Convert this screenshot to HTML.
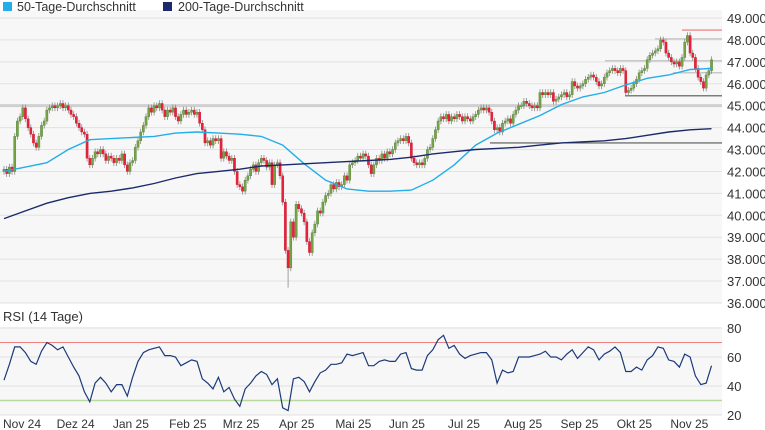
<!DOCTYPE html>
<html><head><meta charset="utf-8"><style>
body{margin:0;background:#fff;width:765px;height:430px;overflow:hidden;font-family:"Liberation Sans",sans-serif}
svg{display:block}
text{font-family:"Liberation Sans",sans-serif;fill:#333}
</style></head><body>
<svg id="c" width="765" height="430"></svg>
<script>
const closes=[42.1,41.9,42.2,42.0,43.6,44.3,44.5,44.9,44.4,44.0,43.7,43.3,43.1,43.6,44.1,44.3,44.8,44.9,45.0,44.9,45.0,45.1,44.9,45.0,44.8,44.6,44.5,44.2,44.0,43.8,43.7,42.6,42.3,42.6,42.9,42.8,43.0,42.8,42.5,42.7,42.6,42.4,42.6,42.5,42.8,42.3,42.0,42.4,42.5,43.1,43.4,43.8,44.1,44.5,44.9,44.7,45.0,44.9,45.1,44.8,44.5,44.8,44.7,44.9,44.5,44.3,44.6,44.8,44.6,44.7,44.8,44.6,44.7,44.2,43.9,43.3,43.4,43.2,43.5,43.4,43.5,42.6,42.9,42.7,42.5,42.6,42.0,41.4,41.3,41.1,41.6,41.8,42.1,42.3,42.0,42.4,42.6,42.5,42.2,42.4,41.4,42.3,42.4,41.8,40.6,38.4,37.6,39.7,39.0,40.5,40.3,40.1,39.7,38.8,38.3,39.2,39.6,40.2,40.1,40.6,40.9,41.0,41.4,41.2,41.5,41.3,41.4,41.8,41.6,42.3,42.4,42.5,42.7,42.6,42.8,42.7,42.3,41.9,42.3,42.6,42.5,42.8,42.6,42.9,42.8,43.0,43.3,43.4,43.5,43.4,43.6,43.3,42.6,42.4,42.3,42.4,42.3,42.6,43.0,43.1,43.5,43.9,44.3,44.5,44.4,44.6,44.3,44.5,44.4,44.6,44.5,44.3,44.5,44.4,44.3,44.5,44.6,44.8,44.9,44.8,44.9,44.7,44.3,43.9,44.0,43.8,44.2,44.3,44.4,44.2,44.6,44.8,45.0,45.0,45.2,45.1,45.0,44.9,45.0,44.9,45.6,45.5,45.6,45.5,45.6,45.2,45.3,45.4,45.5,45.6,45.4,45.5,46.1,45.9,45.8,45.9,46.0,46.2,46.3,46.4,46.3,46.1,45.9,46.0,46.3,46.5,46.6,46.7,46.6,46.5,46.7,46.6,45.6,45.7,45.8,46.0,46.2,46.5,46.6,46.7,47.1,47.3,47.4,47.5,47.6,48.0,47.9,47.4,47.2,47.0,46.9,47.0,46.8,47.2,47.9,48.2,47.4,47.2,46.7,46.3,46.1,45.8,46.4,46.6,47.1];
const lowExtremes=[[106,36.7]];
const ma50=[42.0,42.2,42.4,43.0,43.45,43.5,43.55,43.6,43.75,43.8,43.75,43.7,43.6,43.2,42.35,41.6,41.2,41.1,41.1,41.15,41.6,42.3,43.2,43.75,44.15,44.55,45.05,45.4,45.6,45.95,46.25,46.4,46.65,46.7];
const ma200=[39.85,40.2,40.55,40.8,41.0,41.1,41.25,41.45,41.7,41.9,42.0,42.1,42.25,42.3,42.35,42.4,42.45,42.5,42.55,42.65,42.8,42.9,43.0,43.05,43.1,43.2,43.3,43.35,43.4,43.5,43.65,43.8,43.9,43.95];
const rsi=[44,55,67,67,63,57,55,64,70,68,65,67,60,53,47,36,29,42,46,42,36,41,41,33,46,57,63,65,66,67,61,61,60,54,56,58,57,45,42,38,46,36,39,31,26,38,42,47,50,48,41,45,25,23,45,46,43,36,43,49,51,55,55,56,62,61,62,63,54,54,57,58,57,57,62,63,52,51,51,61,65,72,75,66,68,62,59,61,62,63,63,58,42,51,49,50,60,60,60,61,62,64,60,60,58,62,65,59,63,67,65,58,62,64,67,63,50,50,53,51,58,61,67,66,58,57,53,62,60,47,41,42,54];
const priceTicks=["49.000","48.000","47.000","46.000","45.000","44.000","43.000","42.000","41.000","40.000","39.000","38.000","37.000","36.000"];
const rsiTicks=["80","60","40","20"];
const months=["Nov 24","Dez 24","Jan 25","Feb 25","Mrz 25","Apr 25","Mai 25","Jun 25","Jul 25","Aug 25","Sep 25","Okt 25","Nov 25"];
const monthStartIdx=[0,20,41,62,82,103,124,144,166,187,208,229,249];

const S=document.getElementById('c');const NS='http://www.w3.org/2000/svg';
function el(t,a,p){const e=document.createElementNS(NS,t);for(const k in a)e.setAttribute(k,a[k]);(p||S).appendChild(e);return e;}
const X=i=>4+i*2.68;
const Y=p=>18+(49-p)*21.92;
const RY=v=>328+(80-v)*1.45;
const R=722;
let b=el('rect',{x:0,y:10,width:R,height:293,fill:'#f7f7f7'});

b=el('rect',{x:0,y:327,width:R,height:88,fill:'#f7f7f7'});

priceTicks.forEach((t,k)=>{const v=49-k;const y=Y(v);
 let g=el('line',{x1:0,x2:R,y1:y,y2:y,stroke:'#e2e2e2','stroke-width':1});
 
 let tx=el('text',{x:727,y:y+5,'font-size':13});tx.textContent=t;
 });
rsiTicks.forEach(t=>{const y=RY(+t);
 let g=el('line',{x1:0,x2:R,y1:y,y2:y,stroke:'#e2e2e2','stroke-width':1});
 
 let tx=el('text',{x:727,y:y+5,'font-size':13});tx.textContent=t;
 });
function hl(p,x1,col,w,name){let l=el('line',{x1:x1,x2:R,y1:Y(p),y2:Y(p),stroke:col,'stroke-width':w});
 }
hl(45.0,0,'#d0d0d0',3,'resistance-line-45000');
hl(48.45,682,'#f07070',1.2,'resistance-line-high');
hl(48.05,655,'#c8c8c8',1.5,'level-line-48000');
hl(47.05,605,'#c8c8c8',1.5,'level-line-47000');
hl(46.5,673,'#c8c8c8',1.5,'level-line-46500');
hl(45.45,625,'#555',1.2,'support-line-45450');
hl(43.3,490,'#555',1.2,'support-line-43300');
const lowMap={};lowExtremes.forEach(a=>{lowMap[a[0]]=a[1];});
closes.forEach((c,i)=>{const o=i?closes[i-1]:42.0;const hi=Math.max(o,c)+0.15;let lo=Math.min(o,c)-0.15;
 if(lowMap[i]!==undefined)lo=lowMap[i];
 const x=X(i);const up=c>=o;
 let w=el('line',{x1:x,x2:x,y1:Y(hi),y2:Y(lo),stroke:'#888','stroke-width':0.8});
 
 const y1=Y(Math.max(o,c)),h=Math.max(1,Y(Math.min(o,c))-y1);
 let r=el('rect',{x:x-1.1,y:y1,width:2.2,height:h,fill:up?'#74a443':'#e8213a',stroke:up?'#56803a':'#c81a30','stroke-width':0.4});
 });
function line(arr,step,col,name){const pts=arr.map((v,k)=>X(k*step).toFixed(1)+','+Y(v).toFixed(1)).join(' ');
 let p=el('polyline',{points:pts,fill:'none',stroke:col,'stroke-width':1.4});
 }
line(ma50,8,'#22aee8','ma50-line');
line(ma200,8,'#1b2a6b','ma200-line');
let l=el('line',{x1:0,x2:R,y1:RY(70),y2:RY(70),stroke:'#f08080','stroke-width':1});

l=el('line',{x1:0,x2:R,y1:RY(30),y2:RY(30),stroke:'#b8d8a0','stroke-width':1.5});

let rp=el('polyline',{points:rsi.map((v,k)=>X(k*2).toFixed(1)+','+RY(v).toFixed(1)).join(' '),fill:'none',stroke:'#1b3a7a','stroke-width':1.2});

let rt=el('text',{x:3,y:321,'font-size':13});rt.textContent='RSI (14 Tage)';

months.forEach((m,k)=>{let t=el('text',{x:X(monthStartIdx[k])-1,y:428,'font-size':12});t.textContent=m;
 });
let q=el('rect',{x:3,y:2,width:9,height:9,fill:'#22aee8'});
q=el('text',{x:17,y:11,'font-size':12.5});q.textContent='50-Tage-Durchschnitt';
q=el('rect',{x:163,y:2,width:9,height:9,fill:'#1b2a6b'});
q=el('text',{x:178,y:11,'font-size':12.5});q.textContent='200-Tage-Durchschnitt';
</script>
</body></html>
